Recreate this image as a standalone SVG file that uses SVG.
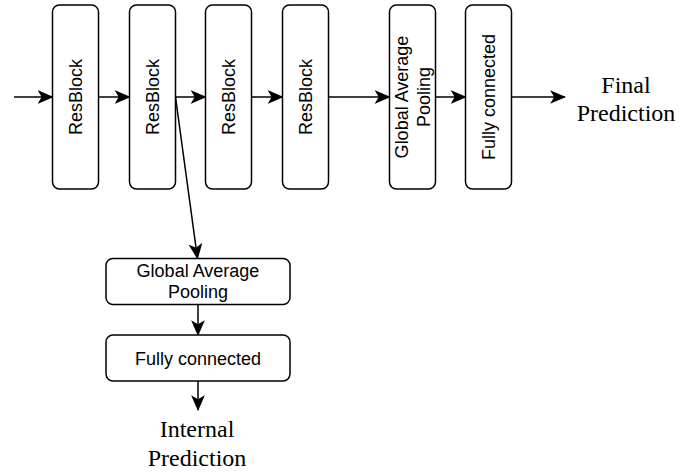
<svg xmlns="http://www.w3.org/2000/svg" width="697" height="472" viewBox="0 0 697 472">
<style>
.box{fill:#fff;stroke:#000;stroke-width:1.5}
.lbl{font-family:"Liberation Sans",Arial,sans-serif;font-size:18px;fill:#000;text-anchor:middle}
.out{font-family:"Liberation Serif","Times New Roman",serif;font-size:24px;fill:#000;text-anchor:middle}
.conn{fill:none;stroke:#000;stroke-width:1.5;marker-end:url(#arr)}
</style>
<defs>
<marker id="arr" markerUnits="userSpaceOnUse" markerWidth="16" markerHeight="14" viewBox="0 0 14 12" refX="13" refY="6" orient="auto">
<path d="M0,0 L14,6 L0,12 L3.5,6 Z" fill="#000"/>
</marker>
</defs>
<g id="connectors">
<line class="conn" x1="14" y1="97" x2="52.5" y2="97"/>
<line class="conn" x1="98.5" y1="97" x2="129.5" y2="97"/>
<line class="conn" x1="175.5" y1="97" x2="205.5" y2="97"/>
<line class="conn" x1="251.5" y1="97" x2="282.5" y2="97"/>
<line class="conn" x1="328.5" y1="97" x2="389.5" y2="97"/>
<line class="conn" x1="435.5" y1="97" x2="465.5" y2="97"/>
<line class="conn" x1="511.5" y1="97" x2="565" y2="97"/>
<line class="conn" x1="175.5" y1="97" x2="197.5" y2="258.5"/>
<line class="conn" x1="198" y1="304.5" x2="198" y2="335"/>
<line class="conn" x1="198" y1="381" x2="198" y2="410"/>
</g>
<g id="res1"><rect class="box" x="52.5" y="5" width="46" height="184" rx="7"/><text class="lbl" transform="translate(75.5,97) rotate(-90)" y="6.5">ResBlock</text></g>
<g id="res2"><rect class="box" x="129.5" y="5" width="46" height="184" rx="7"/><text class="lbl" transform="translate(152.5,97) rotate(-90)" y="6.5">ResBlock</text></g>
<g id="res3"><rect class="box" x="205.5" y="5" width="46" height="184" rx="7"/><text class="lbl" transform="translate(228.5,97) rotate(-90)" y="6.5">ResBlock</text></g>
<g id="res4"><rect class="box" x="282.5" y="5" width="46" height="184" rx="7"/><text class="lbl" transform="translate(305.5,97) rotate(-90)" y="6.5">ResBlock</text></g>
<g id="gap1"><rect class="box" x="389.5" y="5" width="46" height="184" rx="7"/><text class="lbl" transform="translate(412.5,97) rotate(-90)"><tspan x="0" y="-4.3">Global Average</tspan><tspan x="0" y="17.3">Pooling</tspan></text></g>
<g id="fc1"><rect class="box" x="465.5" y="5" width="46" height="184" rx="7"/><text class="lbl" transform="translate(488.5,97) rotate(-90)" y="6.5">Fully connected</text></g>
<g id="final"><text class="out"><tspan x="626" y="92.5">Final</tspan><tspan x="626" y="121">Prediction</tspan></text></g>
<g id="gap2"><rect class="box" x="106" y="258.5" width="184" height="46" rx="7"/><text class="lbl"><tspan x="198" y="276.5">Global Average</tspan><tspan x="198" y="298">Pooling</tspan></text></g>
<g id="fc2"><rect class="box" x="106" y="335" width="184" height="46" rx="7"/><text class="lbl" x="198" y="364.5">Fully connected</text></g>
<g id="internal"><text class="out"><tspan x="197" y="437">Internal</tspan><tspan x="197" y="465.5">Prediction</tspan></text></g>
</svg>
